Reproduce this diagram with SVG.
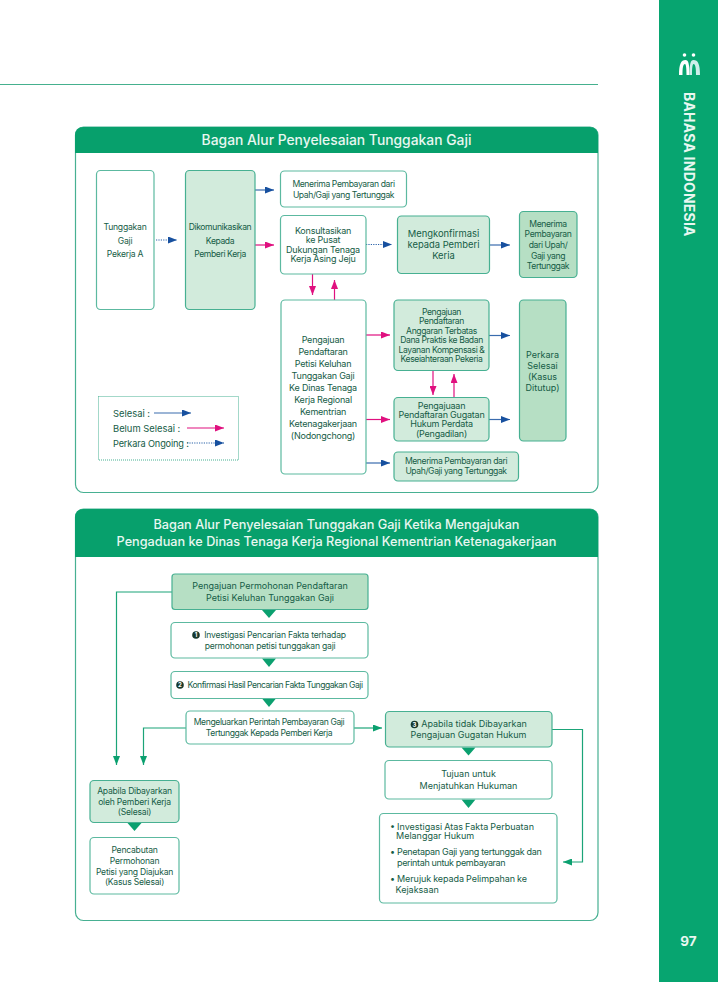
<svg xmlns="http://www.w3.org/2000/svg" width="718" height="982" viewBox="0 0 718 982">
<style>
text{font-family:Inter,"Noto Sans","Liberation Sans",sans-serif;fill:#155c46;text-anchor:middle}
.t9{font-size:9px}.s{letter-spacing:-.22px}.t85{font-size:8.6px;letter-spacing:-.4px}.u{letter-spacing:-.22px}.t10{font-size:9.4px}.st{text-anchor:start}
.h{font-size:13.85px;fill:#e9f7f1;font-weight:500}
.h2{font-size:12.7px}
.w{fill:#fff;stroke:#5cb9a0;stroke-width:1.2}
.l{fill:#d2ebdc;stroke:#47b092;stroke-width:1.2}
.m{fill:#b6dfc4;stroke:#47b092;stroke-width:1.2}
.p{fill:none;stroke:#47b092;stroke-width:1.2}
.blue{stroke:#3a6cae;stroke-width:1.2;fill:none;marker-end:url(#ab)}
.dot{stroke:#2a62a8;stroke-width:1.1;stroke-dasharray:1.2 1.2;fill:none;marker-end:url(#ab)}
.pink{stroke:#e0107f;stroke-width:1.2;fill:none;marker-end:url(#ap)}
.green{stroke:#1ba478;stroke-width:1.2;fill:none;marker-end:url(#ag)}
.tri{fill:#0ba06f}
.n{font-size:6px;fill:#fff;font-weight:700}
</style>
<defs>
<marker id="ab" markerUnits="userSpaceOnUse" markerWidth="9" markerHeight="7" refX="9" refY="3.500" orient="auto"><path d="M0 0L9 3.500L0 7Z" fill="#17509f"/></marker>
<marker id="ap" markerUnits="userSpaceOnUse" markerWidth="9" markerHeight="7" refX="9" refY="3.500" orient="auto"><path d="M0 0L9 3.500L0 7Z" fill="#e0107f"/></marker>
<marker id="ag" markerUnits="userSpaceOnUse" markerWidth="9" markerHeight="7" refX="9" refY="3.500" orient="auto"><path d="M0 0L9 3.500L0 7Z" fill="#0ba06f"/></marker>
</defs>
<rect width="718" height="982" fill="#fff"/>
<g id="sidebar">
<rect x="659" y="0" width="59" height="982" fill="#07a570"/>
<circle cx="684.500" cy="55" r="1.800" fill="#fff"/><circle cx="693.500" cy="55" r="1.800" fill="#fff"/>
<path d="M679 75C679 64 681 60 685.500 60C688.500 60 689.500 64 689.500 75H686.500C686.500 68 686 64 685 64C683 64 682.500 68 682.500 75Z" fill="#fff"/>
<path d="M689.500 75C689.500 64 690.500 60 693.500 60C698 60 700 64 700 75H696C696 68 695.500 64 693.500 64C692.500 64 692 68 692 75Z" fill="#cdeeea"/>
<text transform="translate(683.500 92) rotate(90)" style="font-size:13.9px;font-weight:700;fill:#e9f7f1;text-anchor:start;letter-spacing:.28px">BAHASA INDONESIA</text>
<text x="688.500" y="946" style="font-size:13.500px;font-weight:700;fill:#e9f7f1">97</text>
</g>
<line x1="0" y1="84.500" x2="598" y2="84.500" stroke="#45b08e" stroke-width="1"/>

<g id="panel1">
<rect class="p" x="75.500" y="127" width="522.500" height="365.500" rx="8"/>
<path d="M75 153V135a8 8 0 0 1 8-8H590a8 8 0 0 1 8 8V153Z" fill="#07a06c"/>
<text class="h" x="336.500" y="145">Bagan Alur Penyelesaian Tunggakan Gaji</text>
</g>
<g id="panel2">
<rect class="p" x="75.500" y="509" width="522.500" height="411.500" rx="8"/>
<path d="M75 557V517a8 8 0 0 1 8-8H590a8 8 0 0 1 8 8V557Z" fill="#07a06c"/>
<text class="h h2" x="336.500" y="529">Bagan Alur Penyelesaian Tunggakan Gaji Ketika Mengajukan</text>
<text class="h h2" x="336.500" y="546">Pengaduan ke Dinas Tenaga Kerja Regional Kementrian Ketenagakerjaan</text>
</g>

<g id="connectors">
<path class="dot" d="M156 240H177"/>
<path class="blue" d="M255 190H274"/>
<path class="pink" d="M255 245H274"/>
<path class="dot" d="M366 244.500H392"/>
<path class="blue" d="M489.500 245H510"/>
<path class="pink" d="M312.500 274V295"/>
<path class="pink" d="M334.500 300V280"/>
<path class="pink" d="M366 335H390"/>
<path class="pink" d="M366 419.500H390"/>
<path class="blue" d="M366 463H390"/>
<path class="blue" d="M489 335.500H510"/>
<path class="blue" d="M489 419.500H510"/>
<path class="pink" d="M433 370V395"/>
<path class="pink" d="M454 397V374"/>
<path class="blue" d="M154 413H191"/>
<path class="pink" d="M187 428H224"/>
<path class="dot" d="M187 443H224"/>
<path class="green" d="M172 592H116.500V765"/>
<path class="green" d="M186 728H143.500V765"/>
<path class="green" d="M354 728H382"/>
<path class="green" d="M552 729.500H582.500V862H563"/>
<polygon class="tri" points="262,610 276,610 269,618"/>
<polygon class="tri" points="262,658.500 276,658.500 269,667"/>
<polygon class="tri" points="262,698.500 276,698.500 269,707"/>
<polygon class="tri" points="461.500,747.500 475.500,747.500 468.500,755.500"/>
<polygon class="tri" points="461.500,799.500 475.500,799.500 468.500,808"/>
<polygon class="tri" points="127.500,823 141.500,823 134.500,831"/>
</g>

<g id="n-tunggakan"><rect class="w" x="96.500" y="170.500" width="57.500" height="139" rx="4"/>
<text class="t85 u" x="125" y="230">Tunggakan</text><text class="t85 u" x="125" y="244">Gaji</text><text class="t85 u" x="125" y="257">Pekerja A</text></g>
<g id="n-dikomunikasikan"><rect class="l" x="185.500" y="170.500" width="69.500" height="139" rx="4"/>
<text class="t85" x="220" y="230">Dikomunikasikan</text><text class="t85" x="220" y="244">Kepada</text><text class="t85" x="220" y="257">Pemberi Kerja</text></g>
<g id="n-menerima1"><rect class="w" x="280.500" y="171" width="126" height="36" rx="4"/>
<text class="t85" x="343.500" y="187">Menerima Pembayaran dari</text><text class="t85" x="343.500" y="198">Upah/Gaji yang Tertunggak</text></g>
<g id="n-konsultasikan"><rect class="w" x="280.500" y="215.500" width="85.500" height="58.500" rx="4"/>
<text class="t9 s" x="323" y="234">Konsultasikan</text><text class="t9 s" x="323" y="243">ke Pusat</text><text class="t9 s" x="323" y="253">Dukungan Tenaga</text><text class="t9 s" x="323" y="262">Kerja Asing Jeju</text></g>
<g id="n-mengkonfirmasi"><rect class="l" x="397.500" y="216" width="92" height="57.500" rx="4"/>
<text class="t10" x="443.500" y="237">Mengkonfirmasi</text><text class="t10" x="443.500" y="248">kepada Pemberi</text><text class="t10" x="443.500" y="259">Keria</text></g>
<g id="n-menerima2"><rect class="m" x="519.500" y="211.500" width="57.500" height="66" rx="4"/>
<text class="t85" x="548" y="227">Menerima</text><text class="t85" x="548" y="237">Pembayaran</text><text class="t85" x="548" y="248">dari Upah/</text><text class="t85" x="548" y="259">Gaji yang</text><text class="t85" x="548" y="269">Tertunggak</text></g>
<g id="n-petisi"><rect class="w" x="281" y="300" width="85" height="174" rx="4"/>
<text class="t9 s" x="323" y="343">Pengajuan</text><text class="t9 s" x="323" y="355">Pendaftaran</text><text class="t9 s" x="323" y="367">Petisi Keluhan</text><text class="t9 s" x="323" y="379">Tunggakan Gaji</text><text class="t9 s" x="323" y="391">Ke Dinas Tenaga</text><text class="t9 s" x="323" y="403">Kerja Regional</text><text class="t9 s" x="323" y="415">Kementrian</text><text class="t9 s" x="323" y="427">Ketenagakerjaan</text><text class="t9 s" x="323" y="439">(Nodongchong)</text></g>
<g id="n-anggaran"><rect class="l" x="394" y="300" width="95" height="70.500" rx="4"/>
<text class="t85" x="441.500" y="315">Pengajuan</text><text class="t85" x="441.500" y="324">Pendaftaran</text><text class="t85" x="441.500" y="334">Anggaran Terbatas</text><text class="t85" x="441.500" y="343">Dana Praktis ke Badan</text><text class="t85" x="441.500" y="353">Layanan Kompensasi &amp;</text><text class="t85" x="441.500" y="362">Keseiahteraan Pekeria</text></g>
<g id="n-perkara"><rect class="m" x="519.500" y="300" width="46.500" height="141" rx="4"/>
<text class="t9" x="542.500" y="358">Perkara</text><text class="t9" x="542.500" y="369">Selesai</text><text class="t9" x="542.500" y="380">(Kasus</text><text class="t9" x="542.500" y="391">Ditutup)</text></g>
<g id="n-gugatan"><rect class="l" x="394" y="397.500" width="95" height="43.500" rx="4"/>
<text class="t9 s" x="441.500" y="409">Pengajuaan</text><text class="t9 s" x="441.500" y="418">Pendaftaran Gugatan</text><text class="t9 s" x="441.500" y="427">Hukum Perdata</text><text class="t9 s" x="441.500" y="437">(Pengadilan)</text></g>
<g id="n-menerima3"><rect class="l" x="394" y="452" width="124.500" height="29" rx="4"/>
<text class="t85" x="456" y="464">Menerima Pembayaran dari</text><text class="t85" x="456" y="474">Upah/Gaji yang Tertunggak</text></g>
<g id="legend"><rect x="98.500" y="396.500" width="140" height="63.500" fill="none" stroke="#47b092" stroke-width="1" stroke-dasharray="1 1"/>
<text class="t10 st" x="113" y="417">Selesai :</text><text class="t10 st" x="113" y="432">Belum Selesai :</text><text class="st" style="font-size:9.2px;letter-spacing:-.15px" x="113" y="447">Perkara Ongoing :</text></g>

<g id="n2-pengajuan"><rect class="m" x="172" y="574" width="196" height="35.500" rx="3"/>
<text class="t9" x="270" y="589">Pengajuan Permohonan Pendaftaran</text><text class="t9" x="270" y="601">Petisi Keluhan Tunggakan Gaji</text></g>
<g id="n2-investigasi"><rect class="w" x="171" y="622.500" width="197" height="35.500" rx="4"/>
<circle cx="196" cy="635" r="3.800" fill="#16382c"/><text class="n" x="196" y="637.200">1</text>
<text class="t85 u" x="275" y="638">Investigasi Pencarian Fakta terhadap</text><text class="t85 u" x="270" y="649">permohonan petisi tunggakan gaji</text></g>
<g id="n2-konfirmasi"><rect class="w" x="171" y="671.500" width="197" height="27" rx="4"/>
<circle cx="180" cy="685" r="3.800" fill="#16382c"/><text class="n" x="180" y="687.200">2</text>
<text class="t85" x="275" y="688" style="letter-spacing:-.5px">Konfirmasi Hasil Pencarian Fakta Tunggakan Gaji</text></g>
<g id="n2-perintah"><rect class="w" x="186" y="711" width="168" height="33" rx="4"/>
<text class="t85" x="269" y="725">Mengeluarkan Perintah Pembayaran Gaji</text><text class="t85" x="269" y="736">Tertunggak Kepada Pemberi Kerja</text></g>
<g id="n2-apabila"><rect class="l" x="385.500" y="711.500" width="166.500" height="35.500" rx="4"/>
<circle cx="414.500" cy="724.500" r="3.800" fill="#16382c"/><text class="n" x="414.500" y="726.700">3</text>
<text class="t9" x="474" y="727">Apabila tidak Dibayarkan</text><text class="t9" x="468.500" y="738">Pengajuan Gugatan Hukum</text></g>
<g id="n2-tujuan"><rect class="w" x="385" y="760.500" width="167" height="38.500" rx="4"/>
<text class="t9" x="468.500" y="777">Tujuan untuk</text><text class="t9" x="468.500" y="789">Menjatuhkan Hukuman</text></g>
<g id="n2-bullets"><rect class="w" x="379.500" y="813.500" width="177.500" height="89.500" rx="4"/>
<text class="t9 st" x="390" y="830" style="word-spacing:-.5px">• Investigasi Atas Fakta Perbuatan</text>
<text class="t9 st" x="396" y="839">Melanggar Hukum</text>
<text class="t9 st s" x="390" y="855" style="letter-spacing:-.3px">• Penetapan Gaji yang tertunggak dan</text>
<text class="t9 st s" x="397" y="866" style="letter-spacing:-.35px">perintah untuk pembayaran</text>
<text class="t9 st" x="390" y="882" style="letter-spacing:-.05px;word-spacing:-.5px">• Merujuk kepada Pelimpahan ke</text>
<text class="t9 st" x="395.500" y="893">Kejaksaan</text>
</g>
<g id="n2-dibayarkan"><rect class="l" x="90" y="780.500" width="89" height="42" rx="4"/>
<text class="t85 u" x="134.500" y="794">Apabila Dibayarkan</text><text class="t85 u" x="134.500" y="805">oleh Pemberi Kerja</text><text class="t85 u" x="134.500" y="815">(Selesai)</text></g>
<g id="n2-pencabutan"><rect class="w" x="90" y="837.500" width="89" height="56.500" rx="4"/>
<text class="t85 u" x="134.500" y="853">Pencabutan</text><text class="t85 u" x="134.500" y="864">Permohonan</text><text class="t85 u" x="134.500" y="875">Petisi yang Diajukan</text><text class="t85 u" x="134.500" y="885">(Kasus Selesai)</text></g>
</svg>
